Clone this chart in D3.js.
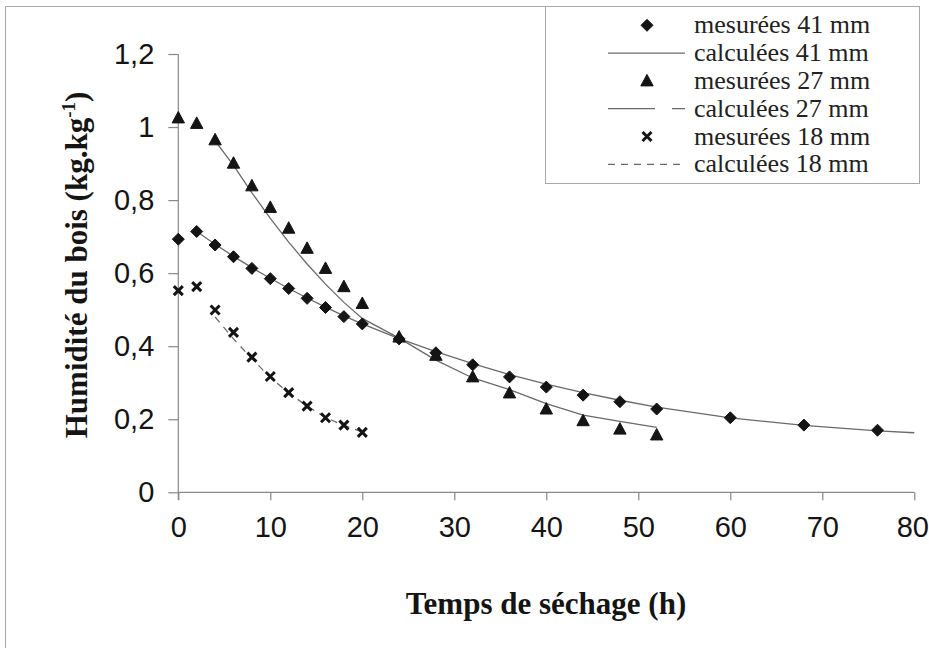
<!DOCTYPE html>
<html><head><meta charset="utf-8">
<script src="https://cdn.jsdelivr.net/npm/d3@7"></script>
<style>body{margin:0;background:#fff}svg{display:block}</style>
</head><body>
<svg id="c" width="929" height="648"></svg>
<script>
// ---- data ----
const xTicks = [0,10,20,30,40,50,60,70,80];
const yTicks = [0,0.2,0.4,0.6,0.8,1,1.2];
const yTickLabels = ["0","0,2","0,4","0,6","0,8","1","1,2"];

const tMeas41 = [0,2,4,6,8,10,12,14,16,18,20,24,28,32,36,40,44,48,52,60,68,76];
const meas41  = [0.693,0.714,0.677,0.645,0.613,0.585,0.558,0.531,0.506,0.481,0.461,0.420,0.382,0.349,0.316,0.288,0.266,0.248,0.228,0.204,0.184,0.170];
const tCalc41 = [2,4,6,8,10,12,14,16,18,20,24,28,32,36,40,44,48,52,60,68,76,80];
const calc41  = [0.714,0.679,0.646,0.615,0.586,0.558,0.532,0.507,0.483,0.461,0.421,0.385,0.352,0.322,0.296,0.273,0.252,0.233,0.204,0.183,0.168,0.163];

const tMeas27 = [0,2,4,6,8,10,12,14,16,18,20,24,28,32,36,40,44,48,52];
const meas27  = [1.025,1.010,0.965,0.901,0.839,0.780,0.723,0.668,0.613,0.563,0.517,0.425,0.375,0.316,0.272,0.228,0.196,0.173,0.157];
const tCalc27 = [4,6,8,10,12,14,16,18,20,24,28,32,36,40,44,48,52];
const calc27  = [0.962,0.895,0.820,0.750,0.685,0.625,0.570,0.520,0.476,0.422,0.362,0.313,0.281,0.243,0.211,0.194,0.178];

const tMeas18 = [0,2,4,6,8,10,12,14,16,18,20];
const meas18  = [0.552,0.563,0.499,0.438,0.370,0.317,0.273,0.236,0.204,0.184,0.164];
const tCalc18 = [4,6,8,10,12,14,16,18,20];
const calc18  = [0.480,0.420,0.366,0.314,0.272,0.236,0.205,0.183,0.165];

const legendLabels = ["mesurées 41 mm","calculées 41 mm","mesurées 27 mm","calculées 27 mm","mesurées 18 mm","calculées 18 mm"];

// ---- drawing ----
const svg = d3.select("#c");
const x = d3.scaleLinear().domain([0,80]).range([178.3,914.3]);
const y = d3.scaleLinear().domain([0,1.2]).range([492.3,54]);
const ink = "#141414", lineCol = "#6a6a6a", frameCol = "#a8a8a8";
const serif = "'Liberation Serif','Times New Roman',Times,serif";

// outer frame (left + top)
svg.append("path").attr("d","M5.5,648 V6.5 H919.5").attr("fill","none").attr("stroke",frameCol).attr("stroke-width",1);

// axes
const gx = svg.append("g").attr("transform","translate(0,492.3)")
  .call(d3.axisBottom(x).tickValues(xTicks).tickSize(8).tickPadding(16).tickFormat(d3.format("d")));
const gy = svg.append("g").attr("transform","translate(178.3,0)")
  .call(d3.axisLeft(y).tickValues(yTicks).tickSize(10).tickPadding(14).tickFormat((d,i)=>yTickLabels[i]));
[gx,gy].forEach(g=>{
  g.select(".domain").attr("stroke","#888").attr("stroke-width",1.2);
  g.selectAll(".tick line").attr("stroke","#888").attr("stroke-width",1.2);
  g.selectAll("text").attr("font-family","'Liberation Sans',Arial,sans-serif").attr("font-size",29).attr("fill",ink);
});
gx.selectAll(".tick text").filter(d=>d===80).attr("dx",-2);
gx.select(".domain").attr("d","M178.3,0H914.3");
gy.select(".domain").attr("d","M0,54V500");

// titles
svg.append("text").attr("x",546).attr("y",614).attr("text-anchor","middle")
  .attr("font-family",serif).attr("font-weight","bold")
  .attr("font-size",31).attr("fill",ink).text("Temps de séchage (h)");
const yt = svg.append("text").attr("transform","translate(87,265) rotate(-90)").attr("text-anchor","middle")
  .attr("font-family",serif).attr("font-weight","bold")
  .attr("font-size",31).attr("fill",ink);
yt.append("tspan").text("Humidité du bois (kg.kg");
yt.append("tspan").attr("font-size",19).attr("dy",-12).text("-1");
yt.append("tspan").attr("dy",12).text(")");

// lines
const line = d3.line().x(d=>x(d[0])).y(d=>y(d[1]));
function drawLine(ts, vs, dash){
  svg.append("path").datum(ts.map((t,i)=>[t,vs[i]])).attr("d",line)
    .attr("fill","none").attr("stroke",lineCol).attr("stroke-width",1.3)
    .attr("stroke-dasharray",dash);
}
drawLine(tCalc41, calc41, null);
drawLine(tCalc27, calc27, null);
drawLine(tCalc18, calc18, "7,6");

// markers
const diamond = "M0,-6L6,0L0,6L-6,0Z";
const tri = "M0,-6.5L6.2,5L-6.2,5Z";
const cross = "M-4.5,-4.5L4.5,4.5M4.5,-4.5L-4.5,4.5";
function drawMarkers(ts, vs, type){
  const g = svg.append("g");
  g.selectAll("path").data(ts.map((t,i)=>[t,vs[i]])).join("path")
    .attr("transform",d=>`translate(${x(d[0])},${y(d[1])})`)
    .attr("d", type==="d"?diamond:type==="t"?tri:cross)
    .attr("fill", type==="x"?"none":ink)
    .attr("stroke", ink).attr("stroke-width", type==="x"?3:1);
}
drawMarkers(tMeas41, meas41, "d");
drawMarkers(tMeas27, meas27, "t");
drawMarkers(tMeas18, meas18, "x");

// legend
const lg = svg.append("g");
lg.append("rect").attr("x",545.5).attr("y",6.5).attr("width",374).attr("height",177)
  .attr("fill","#fff").attr("stroke",frameCol).attr("stroke-width",1);
const types = ["d","l","t","l","x","l"];
const dashes = [null,null,null,"47,17",null,"7,6"];
legendLabels.forEach((lab,i)=>{
  const cy = 25.3 + 27.8*i;
  if(types[i]==="l"){
    lg.append("line").attr("x1",608).attr("x2",685).attr("y1",cy).attr("y2",cy)
      .attr("stroke",lineCol).attr("stroke-width",1.3).attr("stroke-dasharray",dashes[i]);
  } else {
    lg.append("path").attr("transform",`translate(647,${cy})`)
      .attr("d", types[i]==="d"?diamond:types[i]==="t"?tri:cross)
      .attr("fill", types[i]==="x"?"none":ink).attr("stroke",ink).attr("stroke-width",types[i]==="x"?3:1);
  }
  lg.append("text").attr("x",694).attr("y",cy+8).attr("font-family",serif)
    .attr("font-size",26).attr("fill","#222").text(lab);
});
</script>
</body></html>
